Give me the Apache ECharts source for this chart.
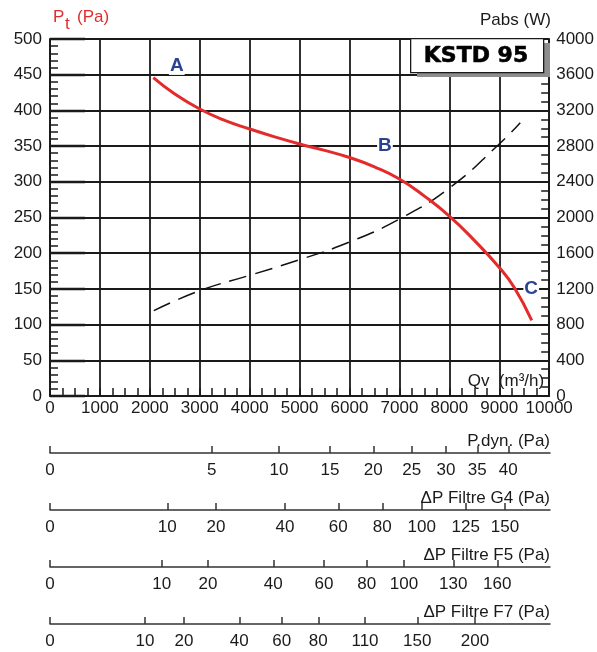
<!DOCTYPE html>
<html lang="fr">
<head>
<meta charset="UTF-8">
<title>KSTD 95</title>
<script src="https://cdn.jsdelivr.net/npm/echarts@6/dist/echarts.min.js"></script>
<style>
  * { margin: 0; padding: 0; }
  body { background: #fff; }
  #main { width: 597px; height: 652px; }
</style>
</head>
<body>
<div id="main"></div>
<script>
// courbe pression totale (Qv m3/h -> Pa)
const qvPressure = [2070, 2500, 3000, 3500, 4000, 4500, 5000, 5500, 6000, 6500, 7000, 7500, 8000, 8500, 9000, 9300, 9650];
const pressure = [446, 423, 402, 386, 374, 363, 353, 344, 334, 321, 304, 280, 252, 218, 180, 152, 106];
// courbe puissance absorbee (Qv m3/h -> W)
const qvPower = [2080, 3000, 4000, 5000, 6000, 7000, 8000, 9000, 9420];
const power = [956, 1180, 1352, 1527, 1725, 1983, 2330, 2823, 3062];
// points de fonctionnement
const pointNames = ['A', 'B', 'C'];
const pointQv = [2540, 6710, 9640];
const pointPa = [463, 351, 150];

// echelles secondaires : valeur affichee et debit correspondant
const pdynLabels = [0, 5, 10, 15, 20, 25, 30, 35, 40];
const pdynQv = [0, 3234, 4580, 5600, 6466, 7234, 7920, 8546, 9166];
const g4Labels = [0, 10, 20, 40, 60, 80, 100, 125, 150];
const g4Qv = [0, 2346, 3320, 4700, 5766, 6646, 7434, 8314, 9100];
const f5Labels = [0, 10, 20, 40, 60, 80, 100, 130, 160];
const f5Qv = [0, 2234, 3160, 4466, 5480, 6334, 7080, 8066, 8946];
const f7Labels = [0, 10, 20, 40, 60, 80, 110, 150, 200];
const f7Qv = [0, 1900, 2680, 3786, 4634, 5366, 6300, 7346, 8500];

const FONT = 'Liberation Sans';
const INK = '#1a1a1a';
const RED = '#e42b2b';
const BLUE = '#2a4294';

const chart = echarts.init(document.getElementById('main'));

const plain = function (v) { return String(v); };

const scales = [
  { name: 'P.dyn. (Pa)', labels: pdynLabels, qv: pdynQv, y: 453 },
  { name: 'ΔP Filtre G4 (Pa)', labels: g4Labels, qv: g4Qv, y: 510 },
  { name: 'ΔP Filtre F5 (Pa)', labels: f5Labels, qv: f5Qv, y: 567 },
  { name: 'ΔP Filtre F7 (Pa)', labels: f7Labels, qv: f7Qv, y: 624 }
];

const grids = [{ left: 50, top: 39, width: 500, height: 357 }];
const xAxes = [{
  type: 'value', gridIndex: 0, min: 0, max: 10000, interval: 1000,
  name: 'Qv  (m³/h)', nameLocation: 'end', nameGap: -5,
  nameTextStyle: { fontFamily: FONT, fontSize: 17, color: INK, align: 'right', verticalAlign: 'bottom', padding: [0, 0, 6, 0] },
  axisLine: { lineStyle: { color: INK, width: 2 } },
  axisTick: { show: true, inside: true, length: 8, lineStyle: { color: INK, width: 1.5 } },
  minorTick: { show: true, splitNumber: 4, length: 8, lineStyle: { color: INK, width: 1.5 } },
  axisLabel: { fontFamily: FONT, fontSize: 17, color: INK, margin: 4, formatter: plain },
  splitLine: { show: true, lineStyle: { color: INK, width: 1.8 } }
}];
const yAxes = [{
  type: 'value', gridIndex: 0, min: 0, max: 500, interval: 50, position: 'left',
  axisLine: { show: true, lineStyle: { color: INK, width: 2 } },
  axisTick: { show: true, inside: true, length: 35, lineStyle: { color: INK, width: 2.3 } },
  minorTick: { show: true, splitNumber: 5, length: 8, lineStyle: { color: INK, width: 1.5 } },
  axisLabel: { fontFamily: FONT, fontSize: 17, color: INK, margin: 8, formatter: plain },
  splitLine: { show: true, lineStyle: { color: INK, width: 1.8 } }
}, {
  type: 'value', gridIndex: 0, min: 0, max: 4000, interval: 400, position: 'right',
  axisLine: { show: true, lineStyle: { color: INK, width: 2 } },
  axisTick: { show: true, inside: true, length: 8, lineStyle: { color: INK, width: 1.5 } },
  minorTick: { show: true, splitNumber: 4, length: 8, lineStyle: { color: INK, width: 1.5 } },
  axisLabel: { fontFamily: FONT, fontSize: 17, color: INK, margin: 7, formatter: plain },
  splitLine: { show: false }
}];

scales.forEach(function (s, i) {
  grids.push({ left: 50, width: 500, top: s.y - 1, height: 1 });
  const lookup = {};
  s.qv.forEach(function (q, k) { lookup[q] = s.labels[k]; });
  xAxes.push({
    type: 'value', gridIndex: i + 1, min: 0, max: 10000, position: 'bottom',
    name: s.name, nameLocation: 'end', nameGap: 0,
    nameTextStyle: { fontFamily: FONT, fontSize: 17, color: INK, align: 'right', verticalAlign: 'bottom', padding: [0, 0, 3, 0] },
    axisLine: { lineStyle: { color: '#333', width: 1.5 } },
    axisTick: { show: true, inside: true, length: 7, customValues: s.qv, lineStyle: { color: '#333', width: 1.5 } },
    axisLabel: {
      fontFamily: FONT, fontSize: 17, color: INK, margin: 9, customValues: s.qv,
      formatter: function (v) { return String(lookup[v]); }
    },
    splitLine: { show: false }
  });
  yAxes.push({ type: 'value', gridIndex: i + 1, show: false, min: 0, max: 1 });
});

const option = {
  animation: false,
  backgroundColor: '#fff',
  textStyle: { fontFamily: FONT },
  grid: grids,
  xAxis: xAxes,
  yAxis: yAxes,
  graphic: [
    { type: 'text', left: 53, top: 9, style: { text: 'P', font: '17px "Liberation Sans"', fill: RED } },
    { type: 'text', left: 65, top: 16, style: { text: 't', font: '17px "Liberation Sans"', fill: RED } },
    { type: 'text', left: 77, top: 9, style: { text: '(Pa)', font: '17px "Liberation Sans"', fill: RED } },
    { type: 'text', left: 480, top: 12, style: { text: 'Pabs (W)', font: '17px "Liberation Sans"', fill: INK } },
    { type: 'rect', left: 417, top: 43, z: 10, shape: { width: 133, height: 34 }, style: { fill: '#8d8d8d' } },
    { type: 'rect', left: 410, top: 38, z: 11, shape: { width: 133, height: 34 }, style: { fill: '#fff', stroke: INK, lineWidth: 1.3 } },
    { type: 'text', x: 476, y: 56, z: 12, style: { text: 'KSTD 95', font: 'bold 22px "DejaVu Sans"', fill: '#000', align: 'center', verticalAlign: 'middle', stroke: '#000', lineWidth: 0.6 } }
  ],
  series: [
    {
      type: 'line', xAxisIndex: 0, yAxisIndex: 0, smooth: true, symbol: 'none',
      lineStyle: { color: RED, width: 3 },
      data: qvPressure.map(function (q, i) { return [q, pressure[i]]; }),
      z: 5
    },
    {
      type: 'line', xAxisIndex: 0, yAxisIndex: 1, smooth: true, symbol: 'none',
      lineStyle: { color: '#111', width: 1.5, type: [18, 9] },
      data: qvPower.map(function (q, i) { return [q, power[i]]; }),
      z: 4
    },
    {
      type: 'scatter', xAxisIndex: 0, yAxisIndex: 0, symbolSize: 0,
      itemStyle: { opacity: 1 },
      label: {
        show: true, position: 'inside', formatter: '{b}', opacity: 1,
        fontFamily: FONT, fontSize: 19, fontWeight: 'bold', color: BLUE,
        backgroundColor: '#fff', padding: [0, 1]
      },
      data: pointNames.map(function (n, i) { return { name: n, value: [pointQv[i], pointPa[i]] }; }),
      z: 6
    }
  ]
};

chart.setOption(option);
</script>
</body>
</html>
